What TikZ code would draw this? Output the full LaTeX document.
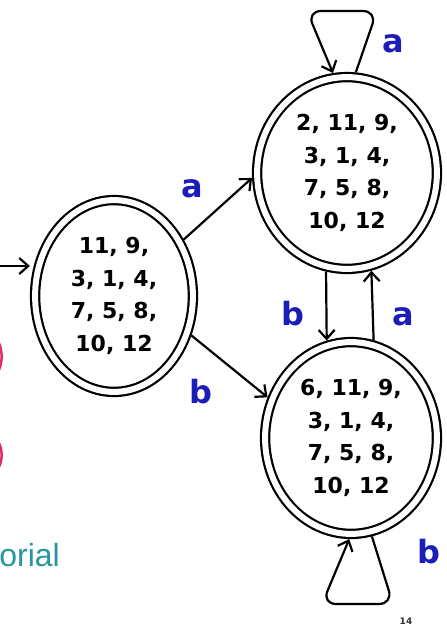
\documentclass[tikz,border=0pt]{standalone}
\usepackage{fontspec}
\setmainfont{DejaVu Sans}
\newfontfamily\labfont{DejaVu Sans}
\newfontfamily\slidefont{Liberation Sans}
\usetikzlibrary{shapes.geometric,arrows.meta}
\definecolor{lblue}{RGB}{28,28,185}
\definecolor{tealtxt}{RGB}{40,150,160}
\definecolor{redmark}{RGB}{225,45,95}
\tikzset{
  state/.style={ellipse, draw=black, line width=2.2pt, double=white, double distance=6pt,
    inner sep=0pt, outer sep=5.2pt, align=center,
    font=\fontsize{22}{32.5}\selectfont\bfseries},
  edge/.style={line width=2.2pt, -{Straight Barb[length=9pt,width=16pt]}},
  loopedge/.style={edge, rounded corners=14pt},
  lab/.style={text=lblue, font=\fontsize{32}{36}\selectfont\bfseries\labfont, anchor=base, inner sep=0pt}
}
\begin{document}
\begin{tikzpicture}[x=1pt,y=-1pt]
\useasboundingbox (0,0) rectangle (447,627);
\clip (0,0) rectangle (447,627);
\fill[white] (0,0) rectangle (447,627);
% states
\node[state, minimum width=157.8pt, minimum height=191.8pt] (L) at (114,296) {11, 9,\\3, 1, 4,\\7, 5, 8,\\10, 12};
\node[state, minimum width=179.8pt, minimum height=191.8pt] (T) at (347,173) {2, 11, 9,\\3, 1, 4,\\7, 5, 8,\\10, 12};
\node[state, minimum width=171.8pt, minimum height=191.8pt] (B) at (351,438) {6, 11, 9,\\3, 1, 4,\\7, 5, 8,\\10, 12};
% initial arrow
\coordinate (start) at (-5,266);
\draw[edge] (start) -- (L.west |- start);
% transitions
\draw[edge] (L.39) -- (T.183);
\draw[edge] (L.-27) -- (B.154);
\draw[edge] (T.258.5) -- (B.104);
\draw[edge] (B.77.8) -- (T.284.5);
\draw[loopedge] (T.85.4) -- (377,11) -- (307,11) -- (T.98);
\draw[loopedge] (B.282) -- (393,604) -- (322,604) -- (B.269.4);
% labels
\node[lab] (la1) at (192,197) {a};
\node[lab] (lb1) at (201,403) {b};
\node[lab] (lb2) at (293,325) {b};
\node[lab] (la2) at (403,325) {a};
\node[lab] (la3) at (393,52) {a};
\node[lab] (lb3) at (429,563) {b};
% slide fragments
\draw[redmark, line width=2.5pt] (-1,343) .. controls (2.5,352) and (2.5,361) .. (-1,370);
\draw[redmark, line width=2.5pt] (-1,443) .. controls (2.5,451) and (2.5,459) .. (-1,467);
\node[anchor=base east, inner sep=0pt, text=tealtxt, font=\fontsize{32}{36}\selectfont\slidefont] (tut) at (60,566) {orial};
\node[anchor=base, inner sep=0pt, text=black!80, font=\fontsize{9}{10}\selectfont\bfseries] (pg) at (406,624) {14};
\end{tikzpicture}
\end{document}
